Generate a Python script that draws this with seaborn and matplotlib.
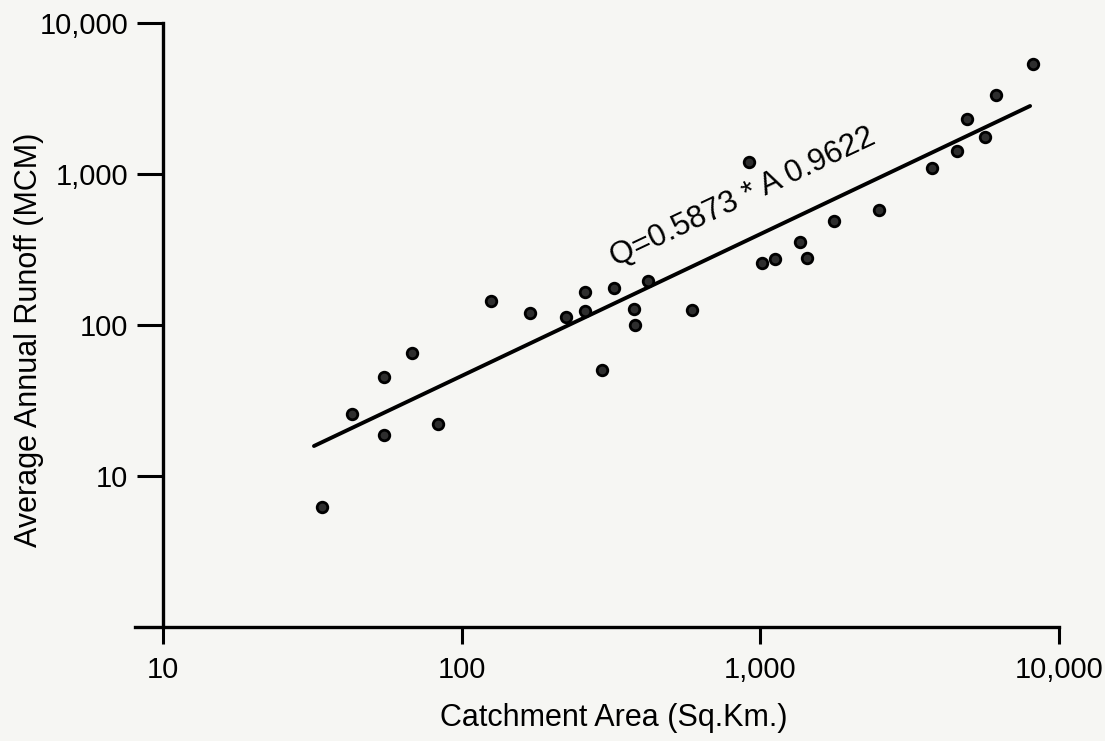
import matplotlib
matplotlib.use("Agg")
import matplotlib.pyplot as plt
import matplotlib.ticker as mticker
import numpy as np
import pandas as pd
import seaborn as sns

# Catchment area (sq.km) vs average annual runoff (MCM)
area = [34, 43, 55, 55, 68, 83, 125, 169, 223, 259, 259, 295, 324, 378, 380,
        421, 590, 916, 1012, 1119, 1358, 1433, 1762, 2495, 3758, 4550, 4920,
        5650, 6150, 8190]
runoff = [6.2, 25.7, 45, 18.7, 65, 22, 144, 120, 113, 165, 124, 50, 176, 128,
          100, 196, 126, 1200, 257, 274, 355, 278, 489, 578, 1096, 1420, 2313,
          1758, 3336, 5350]

# fitted line end points
fit_area = [32, 8000]
fit_runoff = [15.8, 2820]
fit_label = "Q=0.5873 * A 0.9622"

x_ticks = [10, 100, 1000, 10000]
x_ticklabels = ["10", "100", "1,000", "10,000"]
y_ticks = [10, 100, 1000, 10000]
y_ticklabels = ["10", "100", "1,000", "10,000"]

df = pd.DataFrame({"area": area, "runoff": runoff})
fit_df = pd.DataFrame({"area": fit_area, "runoff": fit_runoff})

sns.set_style("white")
plt.rcParams["font.family"] = ["Liberation Sans", "DejaVu Sans"]
for key in ["text.color", "axes.labelcolor", "xtick.color", "ytick.color"]:
    plt.rcParams[key] = "black"

bg = "#f6f6f3"
fig = plt.figure(figsize=(11.05, 7.41), dpi=100, facecolor=bg)
ax = fig.add_axes([0.1222, 0.1538, 0.8362, 0.8152])
ax.set_facecolor(bg)

sns.lineplot(data=fit_df, x="area", y="runoff", ax=ax, color="black",
             linewidth=2.8)
sns.scatterplot(data=df, x="area", y="runoff", ax=ax, s=58,
                color="#2e2e2e", edgecolor="black", linewidth=2.0, zorder=3)

ax.set_xscale("log")
ax.set_yscale("log")
ax.set_xlim(10 ** 0.906, 10000)
ax.set_ylim(1, 10000)

ax.xaxis.set_major_locator(mticker.FixedLocator(x_ticks))
ax.xaxis.set_major_formatter(mticker.FixedFormatter(x_ticklabels))
ax.yaxis.set_major_locator(mticker.FixedLocator(y_ticks))
ax.yaxis.set_major_formatter(mticker.FixedFormatter(y_ticklabels))
ax.xaxis.set_minor_locator(mticker.NullLocator())
ax.yaxis.set_minor_locator(mticker.NullLocator())

for side in ["top", "right"]:
    ax.spines[side].set_visible(False)
ax.spines["left"].set_position(("data", 10))
for side in ["left", "bottom"]:
    ax.spines[side].set_linewidth(2.4)
    ax.spines[side].set_color("black")

ax.tick_params(axis="y", direction="out", length=19, width=2.2, pad=6,
               labelsize=21, left=True, colors="black")
ax.tick_params(axis="x", direction="out", length=12, width=2.2, pad=9,
               labelsize=21, bottom=True, colors="black")

ax.set_xlabel("")
ax.set_ylabel("")
fig.text(0.555, 0.031, "Catchment Area (Sq.Km.)", ha="center", va="center",
         fontsize=22, color="black")
fig.text(0.026, 0.541, "Average Annual Runoff (MCM)", ha="center",
         va="center", rotation=90, fontsize=22, color="black")

ax.text(0.52, 0.597, fit_label, transform=ax.transAxes, rotation=25.3,
        rotation_mode="anchor", ha="left", va="baseline", fontsize=22.5,
        color="black")

fig.savefig("out.png", dpi=100, facecolor=bg)
